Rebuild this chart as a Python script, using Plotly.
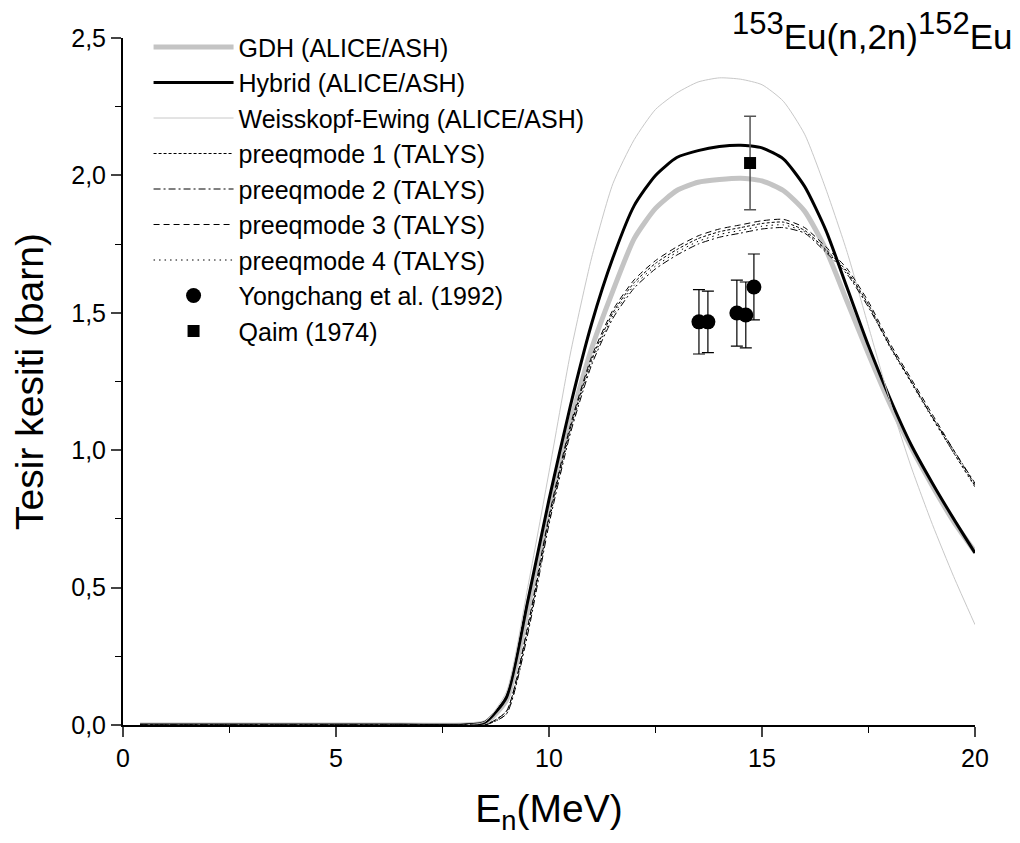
import plotly.graph_objects as go

# Energy grid (MeV)
E = [0.4, 2.0, 4.0, 6.0, 8.0, 8.5, 9.0, 9.5, 10.0, 10.5, 11.0, 11.5, 12.0, 12.5, 13.0,
     13.5, 14.0, 14.5, 15.0, 15.5, 16.0, 16.5, 17.0, 17.5, 18.0, 18.5, 19.0, 19.5, 20.0]

gdh = [0, 0, 0, 0, 0, 0.008, 0.09, 0.42, 0.79, 1.10, 1.37, 1.58, 1.77, 1.88, 1.945,
       1.975, 1.985, 1.99, 1.98, 1.945, 1.87, 1.73, 1.54, 1.35, 1.17, 1.01, 0.87, 0.74, 0.63]
hybrid = [0, 0, 0, 0, 0, 0.01, 0.10, 0.45, 0.82, 1.16, 1.46, 1.70, 1.89, 2.00, 2.065,
          2.09, 2.105, 2.11, 2.10, 2.06, 1.96, 1.80, 1.59, 1.38, 1.19, 1.02, 0.88, 0.75, 0.626]
weisskopf = [0, 0, 0, 0, 0, 0.012, 0.12, 0.50, 0.92, 1.35, 1.70, 1.97, 2.13, 2.24, 2.30,
             2.34, 2.355, 2.35, 2.33, 2.27, 2.15, 1.95, 1.72, 1.45, 1.18, 0.94, 0.73, 0.54, 0.365]
pm1 = [0, 0, 0, 0, 0, 0.0, 0.05, 0.35, 0.75, 1.08, 1.33, 1.50, 1.61, 1.68, 1.73,
       1.77, 1.795, 1.81, 1.825, 1.83, 1.80, 1.73, 1.65, 1.53, 1.38, 1.25, 1.12, 0.99, 0.87]
pm2 = [0, 0, 0, 0, 0, 0.0, 0.04, 0.33, 0.73, 1.06, 1.31, 1.48, 1.59, 1.66, 1.71,
       1.75, 1.775, 1.79, 1.805, 1.81, 1.79, 1.72, 1.64, 1.52, 1.38, 1.25, 1.12, 1.00, 0.88]
pm3 = [0, 0, 0, 0, 0, 0.0, 0.05, 0.36, 0.76, 1.09, 1.34, 1.51, 1.62, 1.69, 1.74,
       1.78, 1.805, 1.82, 1.835, 1.84, 1.81, 1.74, 1.66, 1.54, 1.39, 1.26, 1.13, 1.00, 0.875]
pm4 = [0, 0, 0, 0, 0, 0.0, 0.04, 0.34, 0.74, 1.07, 1.32, 1.49, 1.60, 1.67, 1.72,
       1.76, 1.785, 1.80, 1.815, 1.82, 1.795, 1.725, 1.645, 1.525, 1.375, 1.245, 1.115, 0.99, 0.865]

# Experimental data
yong_E = [13.52, 13.73, 14.41, 14.62, 14.81]
yong_s = [1.467, 1.467, 1.499, 1.492, 1.594]
yong_err = [0.117, 0.112, 0.12, 0.12, 0.12]
qaim_E = [14.72]
qaim_s = [2.045]
qaim_err = [0.17]

x_ticks = [0, 5, 10, 15, 20]
y_ticks = [0.0, 0.5, 1.0, 1.5, 2.0, 2.5]

FONT = "Liberation Sans, Arial, sans-serif"

fig = go.Figure()

def line(y, name, color, width, dash="solid"):
    fig.add_trace(go.Scatter(x=E, y=y, mode="lines", name=name,
                             line=dict(color=color, width=width, dash=dash, shape="spline",
                                       smoothing=0.6)))

line(gdh, "GDH (ALICE/ASH)", "#c4c4c4", 5)
line(hybrid, "Hybrid (ALICE/ASH)", "#000000", 3)
line(weisskopf, "Weisskopf-Ewing (ALICE/ASH)", "#c8c8c8", 1)
line(pm1, "preeqmode 1 (TALYS)", "#000000", 1, "3px,2px")
line(pm2, "preeqmode 2 (TALYS)", "#000000", 1, "7px,3px,2px,3px")
line(pm3, "preeqmode 3 (TALYS)", "#000000", 1, "6px,4px")
line(pm4, "preeqmode 4 (TALYS)", "#000000", 1, "1.5px,4px")

fig.add_trace(go.Scatter(x=yong_E, y=yong_s, mode="markers", name="Yongchang et al. (1992)",
                         marker=dict(symbol="circle", size=15, color="black"),
                         error_y=dict(type="data", array=yong_err, color="black",
                                      thickness=1.2, width=6)))
fig.add_trace(go.Scatter(x=qaim_E, y=qaim_s, mode="markers", name="Qaim (1974)",
                         marker=dict(symbol="square", size=12, color="black"),
                         error_y=dict(type="data", array=qaim_err, color="#555555",
                                      thickness=1.5, width=6)))

fig.add_annotation(text="<sup><span style='font-size:31px'>153</span></sup>Eu(n,2n)"
                        "<sup><span style='font-size:31px'>152</span></sup>Eu",
                   xref="paper", yref="paper",
                   x=1.047, y=1.05, xanchor="right", yanchor="top", showarrow=False,
                   font=dict(family=FONT, size=35, color="black"))

fig.update_layout(
    width=1020, height=843,
    margin=dict(l=123, r=45, t=38, b=118),
    paper_bgcolor="white", plot_bgcolor="white",
    separators=", ",
    font=dict(family=FONT, color="black"),
    showlegend=True,
    legend=dict(x=0.03, y=1.02, xanchor="left", yanchor="top",
                font=dict(family=FONT, size=25, color="black"),
                bgcolor="rgba(0,0,0,0)", tracegroupgap=0, itemwidth=80),
    xaxis=dict(range=[0, 20], tickvals=x_ticks, ticks="outside", ticklen=10, tickwidth=1.5,
               showline=True, linewidth=2, linecolor="black", showgrid=False, zeroline=False,
               tickfont=dict(family=FONT, size=25, color="black"),
               minor=dict(dtick=2.5, ticks="outside", ticklen=6, tickwidth=1.2, tickcolor="black"),
               title=dict(text="E<sub>n</sub>(MeV)", font=dict(family=FONT, size=39, color="black"),
                          standoff=24)),
    yaxis=dict(range=[0, 2.5], tickvals=y_ticks, tickformat=".1f", ticks="outside", ticklen=10,
               tickwidth=1.5, showline=True, linewidth=2, linecolor="black", showgrid=False,
               zeroline=False,
               tickfont=dict(family=FONT, size=25, color="black"),
               minor=dict(dtick=0.25, ticks="outside", ticklen=6, tickwidth=1.2, tickcolor="black"),
               title=dict(text="Tesir kesiti (barn)", font=dict(family=FONT, size=39, color="black"),
                          standoff=16)),
)

fig.write_html("out.html")
